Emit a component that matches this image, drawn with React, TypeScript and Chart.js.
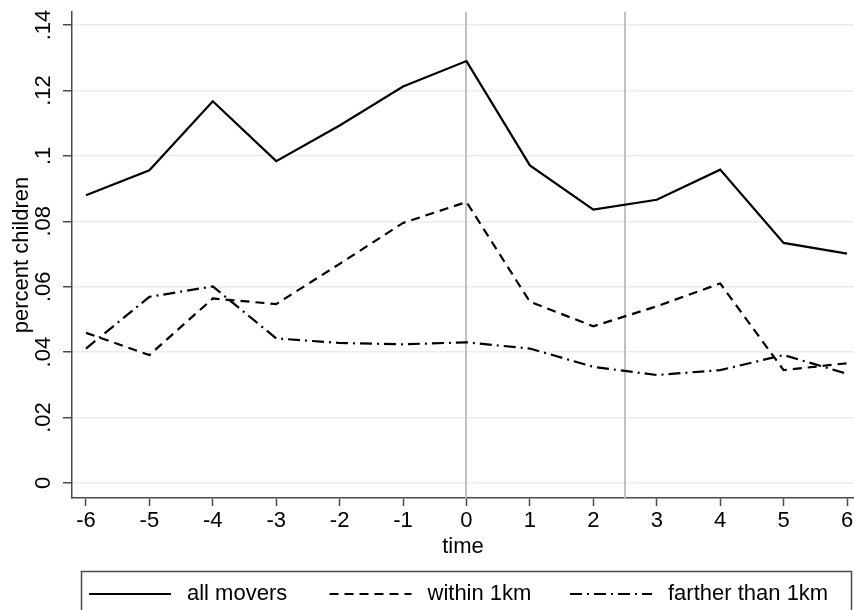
import React, { useEffect, useRef } from "react";
import { Chart, registerables } from "chart.js";

Chart.register(...registerables);

const timePoints = [-6, -5, -4, -3, -2, -1, 0, 1, 2, 3, 4, 5, 6];
const allMovers = [0.088, 0.0956, 0.1167, 0.0984, 0.1093, 0.1212, 0.129, 0.0971, 0.0836, 0.0866, 0.0958, 0.0734, 0.0701];
const within1km = [0.0459, 0.0391, 0.0564, 0.0547, 0.067, 0.0795, 0.0859, 0.0554, 0.0479, 0.054, 0.061, 0.0345, 0.0366];
const fartherThan1km = [0.0411, 0.0569, 0.0601, 0.0442, 0.0428, 0.0424, 0.043, 0.0411, 0.0355, 0.033, 0.0345, 0.0391, 0.0334];
const yTicks = [0, 0.02, 0.04, 0.06, 0.08, 0.1, 0.12, 0.14];
const yTickLabels = ["0", ".02", ".04", ".06", ".08", ".1", ".12", ".14"];
const refLines = [0, 2.5];
const seriesNames = ["all movers", "within 1km", "farther than 1km"];

const FONT = "'Liberation Sans', Arial, sans-serif";
const FS = 22;
const AXIS = "#4a4a4a";

const toPts = (vals: number[]) => vals.map((v, i) => ({ x: timePoints[i], y: v }));

export default function App() {
  const ref = useRef<HTMLCanvasElement | null>(null);
  useEffect(() => {
    if (!ref.current) return;
    const refLinePlugin = {
      id: "refLines",
      beforeDatasetsDraw(chart: any) {
        const { ctx, chartArea, scales } = chart;
        ctx.save();
        ctx.strokeStyle = "#c0c0c0";
        ctx.lineWidth = 2;
        refLines.forEach((v) => {
          const x = Math.round(scales.x.getPixelForValue(v));
          ctx.beginPath();
          ctx.moveTo(x, chartArea.top);
          ctx.lineTo(x, chartArea.bottom);
          ctx.stroke();
        });
        ctx.restore();
      },
    };
    const yLabelPlugin = {
      id: "yLabels",
      afterDraw(chart: any) {
        const { ctx, scales } = chart;
        ctx.save();
        ctx.fillStyle = "#000";
        ctx.font = `${FS}px ${FONT}`;
        ctx.textAlign = "center";
        ctx.textBaseline = "middle";
        yTicks.forEach((v, i) => {
          const y = scales.y.getPixelForValue(v);
          ctx.save();
          ctx.translate(scales.y.right - 28, y);
          ctx.rotate(-Math.PI / 2);
          ctx.fillText(yTickLabels[i], 0, 0);
          ctx.restore();
        });
        ctx.restore();
      },
    };
    const legendPlugin = {
      id: "customLegend",
      afterDraw(chart: any) {
        const { ctx, chartArea } = chart;
        const left = chartArea.left + 9;
        const right = chartArea.right - 3;
        const top = chartArea.bottom + 73;
        const colW = 240.5;
        const cy = top + 23;
        ctx.save();
        ctx.strokeStyle = AXIS;
        ctx.lineWidth = 1.5;
        ctx.strokeRect(left + 0.5, top + 0.5, right - left, 80);
        ctx.font = `${FS}px ${FONT}`;
        ctx.fillStyle = "#000";
        ctx.textBaseline = "middle";
        ctx.textAlign = "left";
        chart.data.datasets.forEach((ds: any, i: number) => {
          const x0 = left + 8 + i * colW;
          ctx.save();
          ctx.strokeStyle = ds.borderColor;
          ctx.lineWidth = ds.borderWidth;
          ctx.setLineDash(ds.borderDash || []);
          ctx.beginPath();
          ctx.moveTo(x0, cy);
          ctx.lineTo(x0 + 82, cy);
          ctx.stroke();
          ctx.restore();
          ctx.fillText(ds.label, x0 + 98, cy);
        });
        ctx.restore();
      },
    };
    const chart = new Chart(ref.current, {
      type: "line",
      data: {
        datasets: [
          { label: seriesNames[0], data: toPts(allMovers), borderColor: "#000", borderWidth: 2.2, borderDash: [], pointRadius: 0, tension: 0, fill: false },
          { label: seriesNames[1], data: toPts(within1km), borderColor: "#000", borderWidth: 2.2, borderDash: [9, 6], pointRadius: 0, tension: 0, fill: false },
          { label: seriesNames[2], data: toPts(fartherThan1km), borderColor: "#000", borderWidth: 2.2, borderDash: [12, 5, 2, 5], pointRadius: 0, tension: 0, fill: false },
        ],
      },
      options: {
        responsive: false,
        animation: false,
        layout: { padding: { top: 12, left: 0, right: 0, bottom: 0 } },
        plugins: { legend: { display: false }, tooltip: { enabled: false } },
        scales: {
          x: {
            type: "linear",
            min: -6.22,
            max: 6.11,
            afterBuildTicks: (s: any) => {
              s.ticks = timePoints.map((v) => ({ value: v }));
            },
            afterFit: (s: any) => {
              s.height = 112;
              s.paddingLeft = 0;
              s.paddingRight = 0;
            },
            ticks: {
              color: "#000",
              font: { family: FONT, size: FS },
              padding: 2,
              maxRotation: 0,
              autoSkip: false,
              callback: (v: any) => String(v),
            },
            grid: { drawOnChartArea: false, drawTicks: true, tickLength: 8, tickColor: AXIS, tickWidth: 1.5 },
            border: { display: true, color: AXIS, width: 1.5 },
            title: { display: true, text: "time", color: "#000", font: { family: FONT, size: FS }, padding: { top: 0, bottom: 50 } },
          },
          y: {
            type: "linear",
            min: -0.0046,
            max: 0.144,
            afterBuildTicks: (s: any) => {
              s.ticks = yTicks.map((v) => ({ value: v }));
            },
            afterFit: (s: any) => {
              s.width = 72;
            },
            ticks: { display: false },
            grid: { color: "#e6eef0", lineWidth: 1.5, drawTicks: true, tickLength: 9, tickColor: AXIS, tickWidth: 1.5 },
            border: { display: true, color: AXIS, width: 1.5 },
            title: { display: true, text: "percent children", color: "#000", font: { family: FONT, size: FS }, padding: { top: 9, bottom: 0 } },
          },
        },
      },
      plugins: [refLinePlugin, yLabelPlugin, legendPlugin],
    } as any);
    return () => chart.destroy();
  }, []);
  return (
    <div style={{ position: "fixed", left: 0, top: 0, width: 854, height: 610, background: "#fff" }}>
      <canvas ref={ref} width={854} height={610} style={{ display: "block" }} />
    </div>
  );
}
